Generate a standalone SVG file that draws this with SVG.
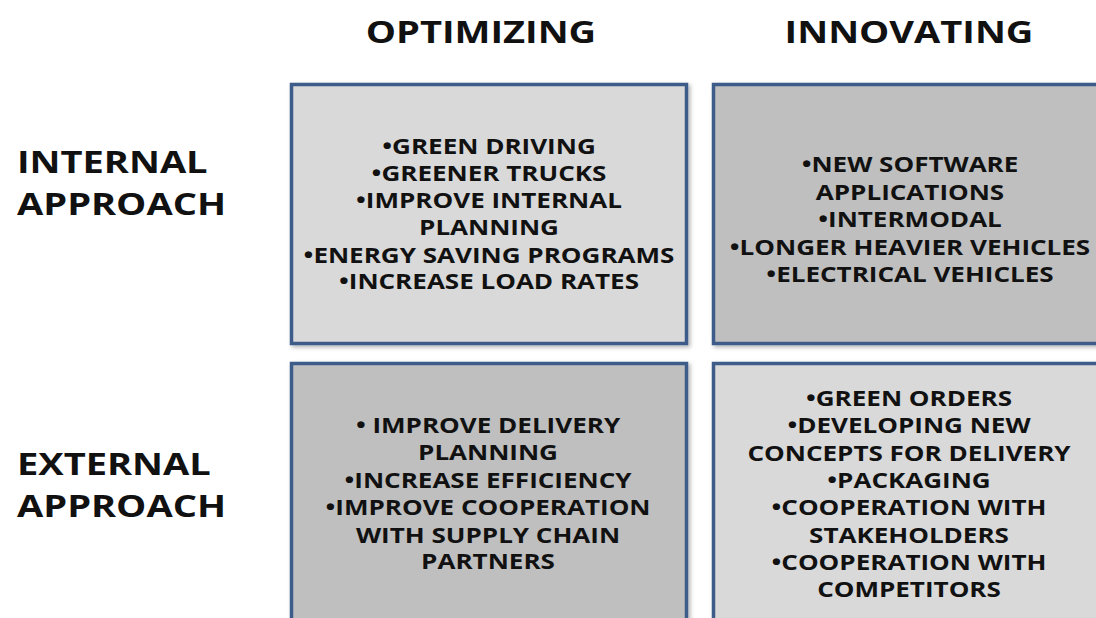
<svg xmlns="http://www.w3.org/2000/svg" width="1096" height="618" viewBox="0 0 1096 618">
<defs>
<filter id="sh" x="-5%" y="-5%" width="115%" height="115%">
<feDropShadow dx="2" dy="2" stdDeviation="2" flood-color="#000" flood-opacity="0.3"/>
</filter>
<style>
.box{stroke:#3d5b8a;stroke-width:3.5;filter:url(#sh)}
.light{fill:#d9d9d9}
.dark{fill:#bfbfbf}
.t{font-family:"Open Sans","Liberation Sans",sans-serif;font-weight:bold;fill:#111;text-anchor:middle;font-size:20.5px}
.h{font-family:"Open Sans","Liberation Sans",sans-serif;font-weight:bold;fill:#111;font-size:29.5px}
</style>
</defs>
<rect width="1096" height="618" fill="#ffffff"/>
<g id="header-optimizing"><text class="h" text-anchor="middle" transform="translate(481,43) scale(1.29,1)">OPTIMIZING</text></g>
<g id="header-innovating"><text class="h" text-anchor="middle" transform="translate(909,43) scale(1.29,1)">INNOVATING</text></g>
<g id="label-internal"><text class="h" transform="translate(17,173) scale(1.29,1)">INTERNAL</text><text class="h" transform="translate(17,215) scale(1.29,1)">APPROACH</text></g>
<g id="label-external"><text class="h" transform="translate(17,475) scale(1.29,1)">EXTERNAL</text><text class="h" transform="translate(17,517) scale(1.29,1)">APPROACH</text></g>
<g id="box-internal-optimizing">
<rect class="box light" x="291.5" y="84.5" width="395" height="259"/>
<g transform="translate(489,0) scale(1.27,1)">
<text class="t" x="0" y="154">•GREEN DRIVING</text>
<text class="t" x="0" y="181">•GREENER TRUCKS</text>
<text class="t" x="0" y="208">•IMPROVE INTERNAL</text>
<text class="t" x="0" y="235">PLANNING</text>
<text class="t" x="0" y="263">•ENERGY SAVING PROGRAMS</text>
<text class="t" x="0" y="289">•INCREASE LOAD RATES</text>
</g>
</g>
<g id="box-internal-innovating">
<rect class="box dark" x="713.5" y="84.5" width="400" height="259"/>
<g transform="translate(910,0) scale(1.27,1)">
<text class="t" x="0" y="172">•NEW  SOFTWARE</text>
<text class="t" x="0" y="200">APPLICATIONS</text>
<text class="t" x="0" y="227">•INTERMODAL</text>
<text class="t" x="0" y="255">•LONGER HEAVIER VEHICLES</text>
<text class="t" x="0" y="282">•ELECTRICAL VEHICLES</text>
</g>
</g>
<g id="box-external-optimizing">
<rect class="box dark" x="291.5" y="363.5" width="395" height="270"/>
<g transform="translate(488,0) scale(1.27,1)">
<text class="t" x="0" y="433">• IMPROVE DELIVERY</text>
<text class="t" x="0" y="460">PLANNING</text>
<text class="t" x="0" y="488">•INCREASE EFFICIENCY</text>
<text class="t" x="0" y="515">•IMPROVE COOPERATION</text>
<text class="t" x="0" y="543">WITH SUPPLY CHAIN</text>
<text class="t" x="0" y="569">PARTNERS</text>
</g>
</g>
<g id="box-external-innovating">
<rect class="box light" x="713.5" y="363.5" width="400" height="270"/>
<g transform="translate(909,0) scale(1.27,1)">
<text class="t" x="0" y="406">•GREEN ORDERS</text>
<text class="t" x="0" y="433">•DEVELOPING NEW</text>
<text class="t" x="0" y="461">CONCEPTS FOR DELIVERY</text>
<text class="t" x="0" y="488">•PACKAGING</text>
<text class="t" x="0" y="515">•COOPERATION WITH</text>
<text class="t" x="0" y="543">STAKEHOLDERS</text>
<text class="t" x="0" y="570">•COOPERATION WITH</text>
<text class="t" x="0" y="597">COMPETITORS</text>
</g>
</g>
<g id="connectors"></g>
</svg>
